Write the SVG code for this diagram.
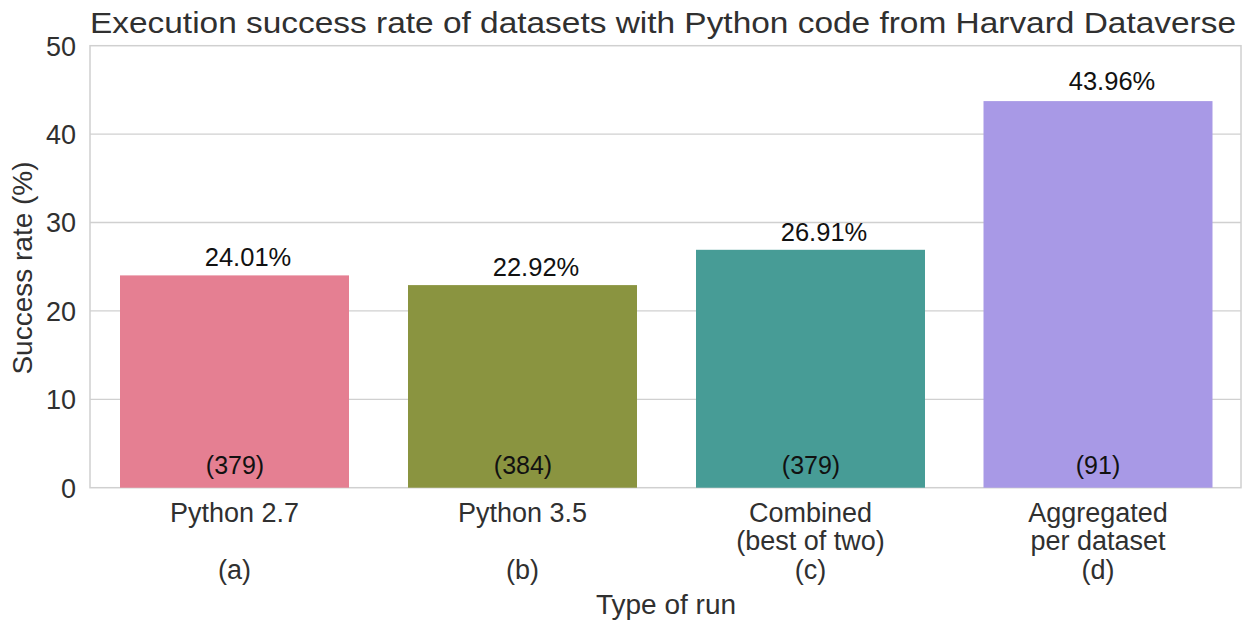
<svg xmlns="http://www.w3.org/2000/svg" width="1248" height="621" viewBox="0 0 1248 621">
<style>
text{font-family:"Liberation Sans",Arial,sans-serif;}
.ylab{font-size:27px;fill:#303030;text-anchor:end;}
.xl{font-size:27px;fill:#303030;text-anchor:middle;}
.val{font-size:25.5px;fill:#111;text-anchor:middle;}
.cnt{font-size:25px;fill:#111;text-anchor:middle;}
.grid{stroke:#d0d0d0;stroke-width:1.3;}
</style>
<rect width="1248" height="621" fill="#fff"/>
<text x="90" y="33" font-size="30" fill="#303030" textLength="1146" lengthAdjust="spacingAndGlyphs">Execution success rate of datasets with Python code from Harvard Dataverse</text>
<g id="grid">
<line class="grid" x1="90" y1="399.3" x2="1241" y2="399.3"/>
<line class="grid" x1="90" y1="310.9" x2="1241" y2="310.9"/>
<line class="grid" x1="90" y1="222.5" x2="1241" y2="222.5"/>
<line class="grid" x1="90" y1="134.1" x2="1241" y2="134.1"/>
<rect x="90" y="45.7" width="1151" height="442" fill="none" stroke="#d0d0d0" stroke-width="1.5"/>
</g>
<g id="yticks">
<text class="ylab" x="76" y="497.5">0</text>
<text class="ylab" x="76" y="409">10</text>
<text class="ylab" x="76" y="320.5">20</text>
<text class="ylab" x="76" y="232">30</text>
<text class="ylab" x="76" y="144">40</text>
<text class="ylab" x="76" y="55.5">50</text>
</g>
<text transform="translate(32,268) rotate(-90)" font-size="28" fill="#303030" text-anchor="middle">Success rate (%)</text>
<g id="bar-a">
<rect x="120" y="275.4" width="229" height="212.3" fill="#e57f92"/>
<text class="val" x="248" y="266">24.01%</text>
<text class="cnt" x="235" y="474">(379)</text>
<text class="xl" x="234.5" y="522">Python 2.7</text>
<text class="xl" x="234.5" y="579">(a)</text>
</g>
<g id="bar-b">
<rect x="408" y="285.1" width="229" height="202.6" fill="#8a9440"/>
<text class="val" x="536" y="276">22.92%</text>
<text class="cnt" x="523" y="474">(384)</text>
<text class="xl" x="522.5" y="522">Python 3.5</text>
<text class="xl" x="522.5" y="579">(b)</text>
</g>
<g id="bar-c">
<rect x="696" y="249.8" width="229" height="237.9" fill="#479c96"/>
<text class="val" x="824" y="241">26.91%</text>
<text class="cnt" x="811" y="474">(379)</text>
<text class="xl" x="810.5" y="522">Combined</text>
<text class="xl" x="810.5" y="550">(best of two)</text>
<text class="xl" x="810.5" y="579">(c)</text>
</g>
<g id="bar-d">
<rect x="983.5" y="101.1" width="229" height="386.6" fill="#a899e6"/>
<text class="val" x="1112" y="90">43.96%</text>
<text class="cnt" x="1098" y="474">(91)</text>
<text class="xl" x="1098" y="522">Aggregated</text>
<text class="xl" x="1098" y="550">per dataset</text>
<text class="xl" x="1098" y="579">(d)</text>
</g>
<text x="666" y="614" font-size="28" fill="#303030" text-anchor="middle">Type of run</text>
</svg>
